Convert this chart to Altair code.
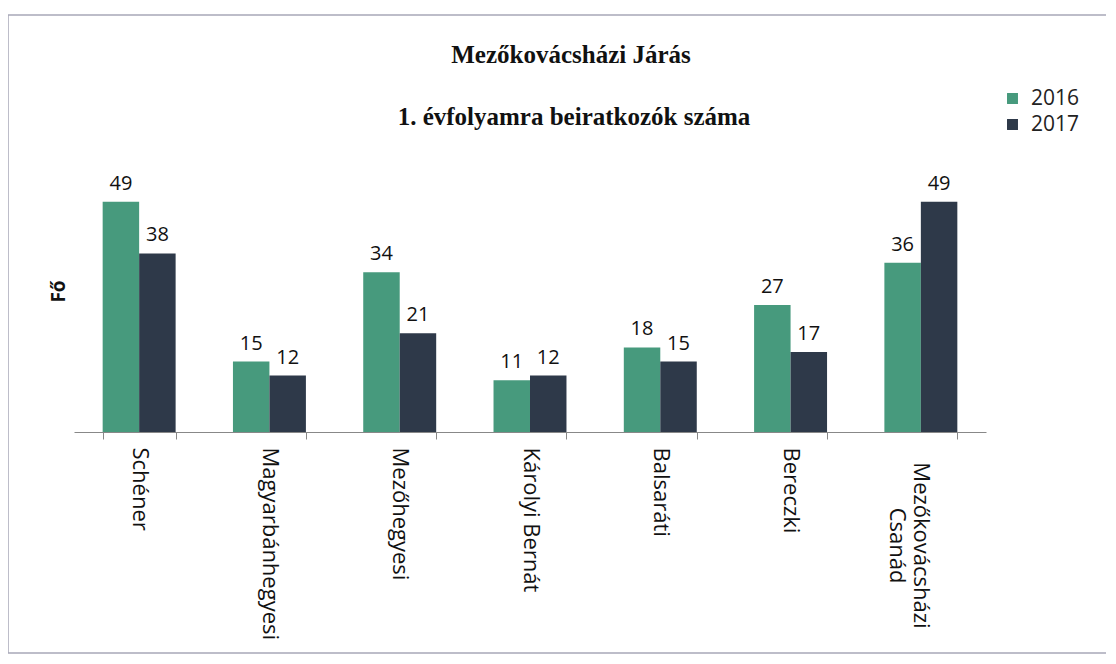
import altair as alt
import pandas as pd

categories = ["Schéner", "Magyarbánhegyesi", "Mezőhegyesi", "Károlyi Bernát",
              "Balsaráti", "Bereczki", "Mezőkovácsházi Csanád"]
years = ["2016", "2017"]
values_2016 = [49, 15, 34, 11, 18, 27, 36]
values_2017 = [38, 12, 21, 12, 15, 17, 49]
title_lines = ["Mezőkovácsházi Járás", "1. évfolyamra beiratkozók száma"]

rows = []
for c, v in zip(categories, values_2016):
    rows.append({"iskola": c, "ev": "2016", "fo": v})
for c, v in zip(categories, values_2017):
    rows.append({"iskola": c, "ev": "2017", "fo": v})
df = pd.DataFrame(rows)

GREEN = "#479a7d"
DARK = "#2e3949"
SANS = "Open Sans"
LAST = categories[-1]

x_enc = alt.X("iskola:N", sort=categories, title=None,
              scale=alt.Scale(paddingInner=0.44, paddingOuter=0.22),
              axis=alt.Axis(labelAngle=90,
                            labelAlign={"condition": {"test": f"datum.value == '{LAST}'", "value": "center"},
                                        "value": "left"},
                            labelPadding={"condition": {"test": f"datum.value == '{LAST}'", "value": 106},
                                          "value": 8},
                            labelBaseline="middle", labelLimit=400,
                            labelFont=SANS, labelFontSize=22, labelColor="#111",
                            tickBand="extent", tickSize=7,
                            tickColor="#888", domainColor="#888",
                            labelExpr=f"datum.label == '{LAST}' ? ['Mezőkovácsházi', 'Csanád'] : datum.label"))
y_enc = alt.Y("fo:Q", scale=alt.Scale(domain=[0, 60]),
              axis=alt.Axis(title="Fő", labels=False, ticks=False, domain=False, grid=False,
                            titleFont=SANS, titleFontSize=19, titleFontWeight="bold",
                            titleColor="#111", titlePadding=6))
color_enc = alt.Color("ev:N", scale=alt.Scale(domain=years, range=[GREEN, DARK]),
                      legend=alt.Legend(title=None, orient="none", legendX=928, legendY=-62,
                                        symbolType="square", symbolSize=120,
                                        symbolStrokeWidth=0,
                                        labelFont=SANS, labelFontSize=21, labelColor="#222",
                                        rowPadding=4, labelOffset=8))

base = alt.Chart(df)
bars = base.mark_bar().encode(x=x_enc, y=y_enc, color=color_enc,
                              xOffset=alt.XOffset("ev:N", sort=years))
labels = base.mark_text(baseline="bottom", dy=-8, font=SANS, fontSize=20, color="#111").encode(
    x=alt.X("iskola:N", sort=categories), y="fo:Q",
    xOffset=alt.XOffset("ev:N", sort=years), text="fo:Q")

one = alt.Data(values=[{"a": 1}])
frame = alt.Chart(one).mark_rect(
    fill=None, stroke="#a8a8b8", strokeWidth=1.5, clip=False).encode(
    x=alt.value(-66), x2=alt.value(1200), y=alt.value(-135), y2=alt.value(503))
title1 = alt.Chart(one).mark_text(font="Liberation Serif", fontSize=25, fontWeight="bold",
                                  color="#111", baseline="middle", align="center").encode(
    x=alt.value(497), y=alt.value(-95), text=alt.value(title_lines[0]))
title2 = alt.Chart(one).mark_text(font="Liberation Serif", fontSize=25, fontWeight="bold",
                                  color="#111", baseline="middle", align="center").encode(
    x=alt.value(500), y=alt.value(-33), text=alt.value(title_lines[1]))

chart = alt.layer(frame, bars, labels, title1, title2).properties(
    width=912, height=282,
    autosize=alt.AutoSizeParams(type="none"),
    padding={"left": 66, "top": 142, "right": 120, "bottom": 222},
).configure_view(stroke=None).configure_legend(padding=0)

chart.save("out.html", embed_options={"renderer": "svg", "actions": False})
